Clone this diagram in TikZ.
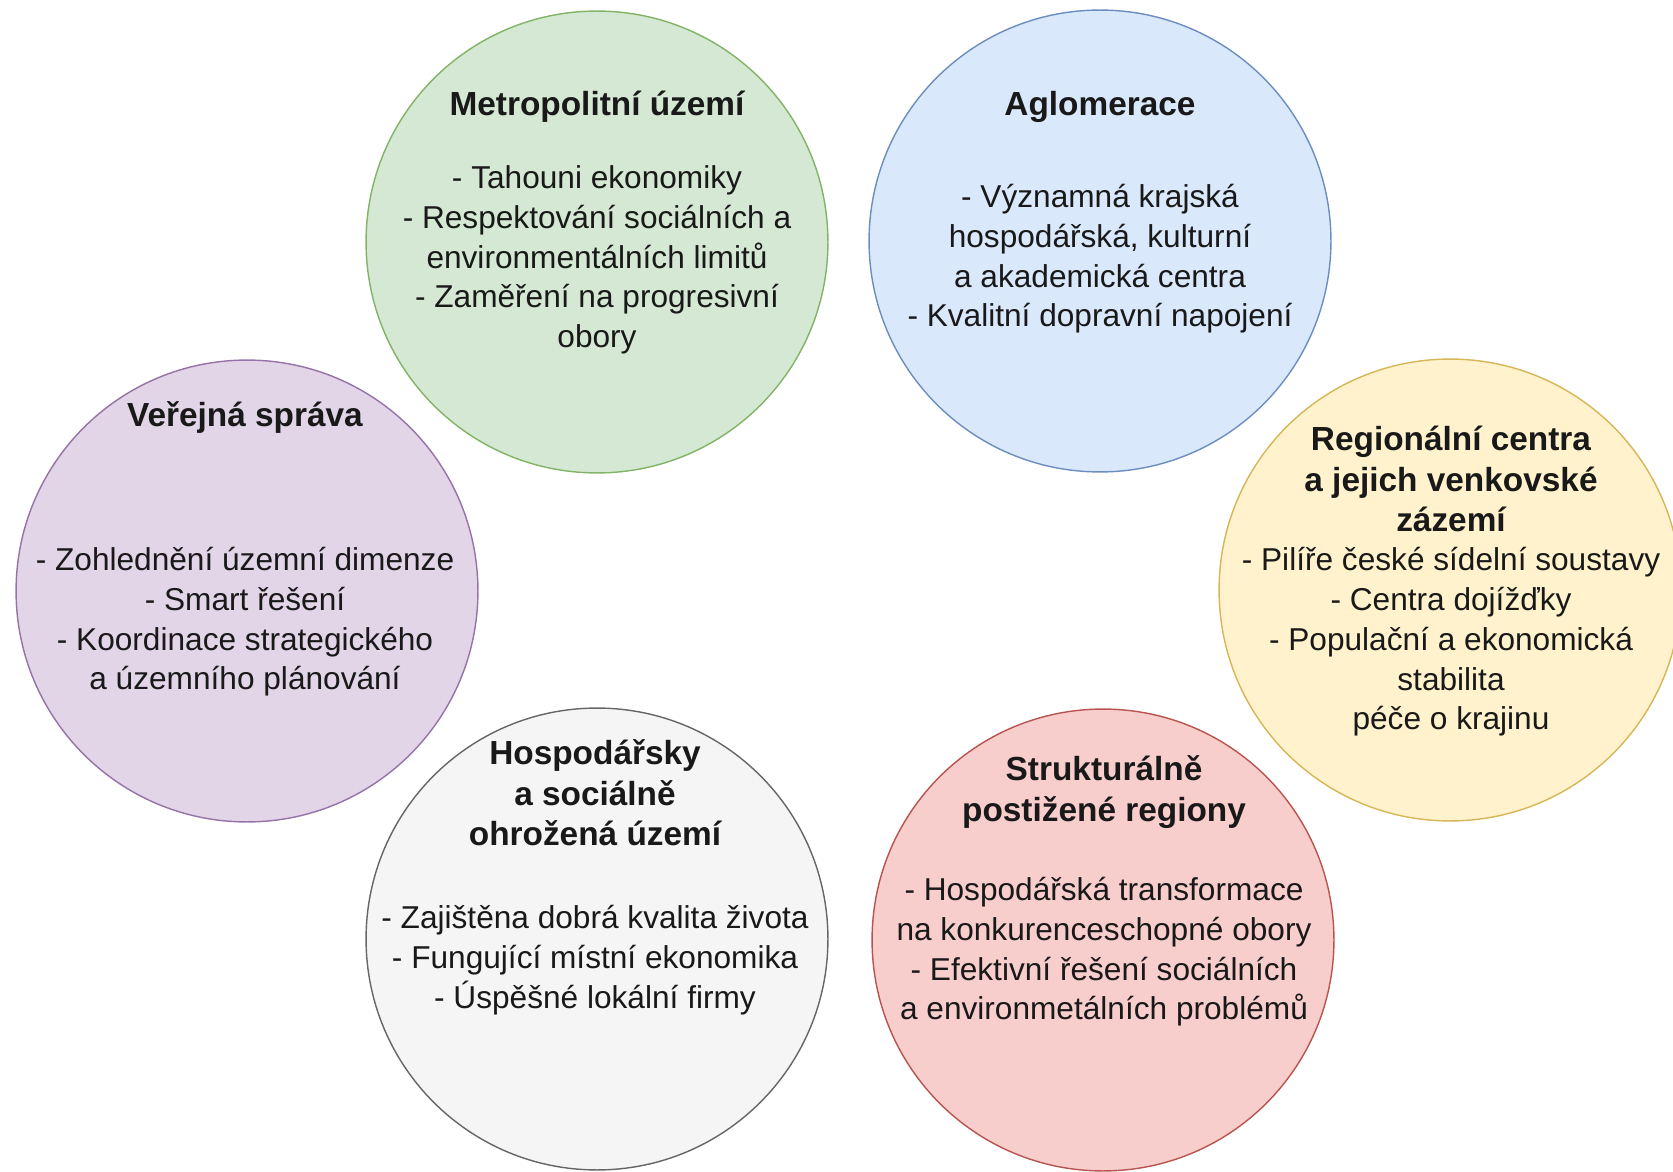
\documentclass[tikz,border=0pt]{standalone}
\usepackage{fontspec}
\setmainfont{Liberation Sans}
\usepackage{tikz}
\usepackage{xcolor}
\definecolor{metro}{HTML}{D5E8D4}
\definecolor{metro_line}{HTML}{82B366}
\definecolor{aglo}{HTML}{DAE8FC}
\definecolor{aglo_line}{HTML}{6C8EBF}
\definecolor{sprava}{HTML}{E1D5E7}
\definecolor{sprava_line}{HTML}{9673A6}
\definecolor{region}{HTML}{FFF2CC}
\definecolor{region_line}{HTML}{D6B656}
\definecolor{ohroz}{HTML}{F5F5F5}
\definecolor{ohroz_line}{HTML}{666666}
\definecolor{strukt}{HTML}{F8CECC}
\definecolor{strukt_line}{HTML}{B85450}

\tikzset{
  bubble/.style={circle, draw, line width=0.8pt, minimum size=9.24cm, inner sep=0pt},
  heading/.style={align=center, text=black!90, font=\fontsize{19}{23}\selectfont\bfseries},
  items/.style={align=center, text=black!90, font=\fontsize{18}{22.6}\selectfont}
}

\begin{document}
\begin{tikzpicture}[x=0.02cm, y=-0.02cm]
            \useasboundingbox (0,0) rectangle (1673,1172);

            \node[bubble, fill=metro, draw=metro_line] (metro) at (597,242) {};
            \node[bubble, fill=aglo, draw=aglo_line] (aglo) at (1100,241) {};
            \node[bubble, fill=sprava, draw=sprava_line] (sprava) at (247,591) {};
            \node[bubble, fill=region, draw=region_line] (region) at (1450,590) {};
            \node[bubble, fill=ohroz, draw=ohroz_line] (ohroz) at (597,939) {};
            \node[bubble, fill=strukt, draw=strukt_line] (strukt) at (1103,940) {};

            \node[heading] (metro_title) at (597,107) {Metropolitní území};
            \node[items] (metro_items) at (597,260)
            {- Tahouni ekonomiky\\
             - Respektování sociálních a\\
             environmentálních limitů\\
             - Zaměření na progresivní\\
             obory};

            \node[heading] (aglo_title) at (1100,107) {Aglomerace};
            \node[items] (aglo_items) at (1100,259)
            {- Významná krajská\\
             hospodářská, kulturní\\
             a akademická centra\\
             - Kvalitní dopravní napojení};

            \node[heading] (sprava_title) at (245,418) {Veřejná správa};
            \node[items] (sprava_items) at (245,622)
            {- Zohlednění územní dimenze\\
             - Smart řešení\\
             - Koordinace strategického\\
             a územního plánování};

            \node[heading] (region_title) at (1451,479)
            {Regionální centra\\
             a jejich venkovské\\
             zázemí};
            \node[items] (region_items) at (1451,642)
            {- Pilíře české sídelní soustavy\\
             - Centra dojížďky\\
             - Populační a ekonomická\\
             stabilita\\
             péče o krajinu};

            \node[heading] (ohroz_title) at (595,793)
            {Hospodářsky\\
             a sociálně\\
             ohrožená území};
            \node[items] (ohroz_items) at (595,960)
            {- Zajištěna dobrá kvalita života\\
             - Fungující místní ekonomika\\
             - Úspěšné lokální firmy};

            \node[heading] (strukt_title) at (1104,792)
            {Strukturálně\\
             postižené regiony};
            \node[items] (strukt_items) at (1104,952)
            {- Hospodářská transformace\\
             na konkurenceschopné obory\\
             - Efektivní řešení sociálních\\
             a environmetálních problémů};
        \end{tikzpicture}
\end{document}
